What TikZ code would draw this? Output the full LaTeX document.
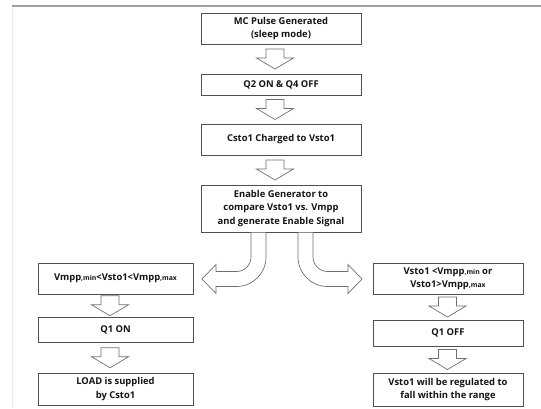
\documentclass[tikz,border=0pt]{standalone}
\usepackage{fontspec}
\setmainfont{Open Sans}
\usetikzlibrary{calc}
\definecolor{boxc}{HTML}{505050}
\definecolor{arrc}{HTML}{707070}
\definecolor{txtc}{HTML}{141414}
\newcommand\smalltag[1]{{\fontsize{6.8}{7}\selectfont #1}}
\newcommand\hdown[3]{%
  \coordinate (#1#2m) at ($(#1.south)!0.5!(#2.north)$);
  \draw[harrow] let \p1=(#1#2m) in
    (#3pt-9pt,\y1+10pt) -- (#3pt+9pt,\y1+10pt) -- (#3pt+9pt,\y1+1pt) --
    (#3pt+18.5pt,\y1+1pt) -- (#3pt,\y1-10pt) -- (#3pt-18.5pt,\y1+1pt) --
    (#3pt-9pt,\y1+1pt) -- cycle;}
\begin{document}
\begin{tikzpicture}[x=1pt,y=-1pt,
  box/.style={draw=boxc, line width=0.9pt, fill=white, inner sep=0pt,
    align=center, text=txtc, font=\bfseries\fontsize{9.4}{13.2}\selectfont},
  harrow/.style={draw=arrc, line width=0.7pt, fill=white, line join=miter}]
\useasboundingbox (0,0) rectangle (541,408);
\fill[white] (0,0) rectangle (541,408);
% frame lines
\draw[color=black!8, line width=0.6pt] (12,6) -- (12,408);
\draw[color=gray!75, line width=1.6pt] (12,6) -- (541,6);
% central column
\node[box, minimum width=160pt, minimum height=31pt] (mc) at (281,28.5) {MC Pulse Generated\\(sleep mode)};
\node[box, minimum width=160pt, minimum height=21pt] (q2) at (281,84.5) {Q2 ON \& Q4 OFF};
\node[box, minimum width=160pt, minimum height=31pt] (cs) at (281,139.5) {Csto1 Charged to Vsto1};
\node[box, minimum width=160pt, minimum height=47pt] (en) at (281,208.5) {Enable Generator to\\compare Vsto1 vs. Vmpp\\and generate Enable Signal};
% left column
\node[box, minimum width=155pt, minimum height=31pt] (l1) at (115.5,278.5) {Vmpp\smalltag{,min}<Vsto1<Vmpp\smalltag{,max}};
\node[box, minimum width=155pt, minimum height=25pt] (l2) at (115.5,330) {Q1 ON};
\node[box, minimum width=155pt, minimum height=32pt] (l3) at (115.5,389) {LOAD is supplied\\by Csto1};
% right column
\node[box, minimum width=150pt, minimum height=31pt] (r1) at (448,278.5) {Vsto1 <Vmpp\smalltag{,min} or\\Vsto1>Vmpp\smalltag{,max}};
\node[box, minimum width=150pt, minimum height=26pt] (r2) at (448,333) {Q1 OFF};
\node[box, minimum width=150pt, minimum height=33pt] (r3) at (448,389.5) {Vsto1 will be regulated to\\fall within the range};
% straight hollow arrows
\hdown{mc}{q2}{275}
\hdown{q2}{cs}{275}
\hdown{cs}{en}{275}
\hdown{l1}{l2}{110}
\hdown{l2}{l3}{110}
\hdown{r1}{r2}{447.5}
\hdown{r2}{r3}{447.5}
% curved hollow arrows
\draw[harrow] (251,232.5) -- (251,257) .. controls (251,265) and (244.5,271.5) .. (236.5,271.5)
  -- (216,271.5) -- (216,264.5) -- (202,279) -- (216,293.5) -- (216,286.5) -- (236.5,286.5)
  .. controls (252.8,286.5) and (266,273.3) .. (266,257) -- (266,232.5);
\draw[harrow] (313,232.5) -- (313,257) .. controls (313,265) and (319.5,271.5) .. (327.5,271.5)
  -- (348,271.5) -- (348,264.5) -- (362,279) -- (348,293.5) -- (348,286.5) -- (327.5,286.5)
  .. controls (311.2,286.5) and (298,273.3) .. (298,257) -- (298,232.5);
\end{tikzpicture}
\end{document}
